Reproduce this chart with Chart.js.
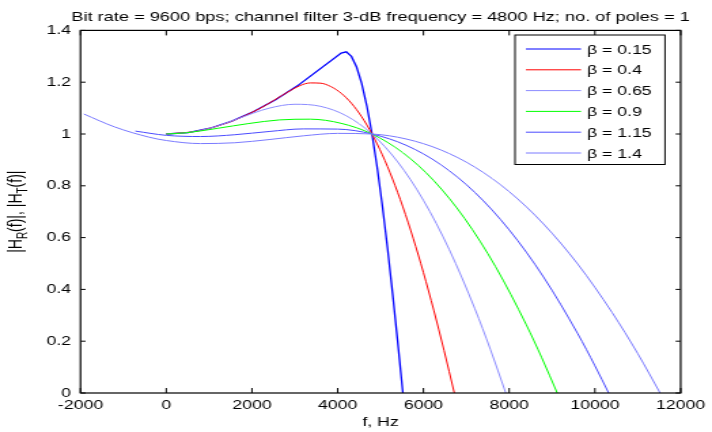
<!DOCTYPE html>
<html lang="en">
<head>
<meta charset="UTF-8" />
<title>Equalized raised-cosine filters</title>
<script src="https://cdn.jsdelivr.net/npm/chart.js"></script>
<style>
  html, body { margin: 0; padding: 0; background: #fff; overflow: hidden; }
  /* the figure is drawn narrow and stretched sideways, like the original export */
  #wrap { width: 524px; height: 432px; transform: scale(1.35878, 1); transform-origin: 0 0; }
</style>
</head>
<body>
<div id="wrap"><canvas id="chart" width="524" height="432"></canvas></div>
<script>
  const titleText = 'Bit rate = 9600 bps; channel filter 3-dB frequency = 4800 Hz; no. of poles = 1';
  const xTitle = 'f, Hz';
  const betas = ['0.15', '0.4', '0.65', '0.9', '1.15', '1.4'];
  const colors = ['#0000ff', '#ff0000', '#8c8cff', '#00ff00', '#4b4bff', '#7a7aff'];

  // frequency (Hz) and |H_R(f)| = |H_T(f)|, one pair per beta
  const f015 = [0, 510, 1020, 1530, 2040, 2550, 3060, 4080, 4200, 4320, 4440, 4560, 4680, 4800, 4920, 5040, 5160, 5280, 5400, 5520];
  const h015 = [1, 1.0056, 1.0223, 1.0496, 1.0866, 1.1324, 1.1859, 1.3124, 1.3174, 1.2995, 1.2585, 1.1945, 1.108, 1, 0.8717, 0.725, 0.5619, 0.3848, 0.1965, 0];

  const f04 = [0, 720, 1440, 2160, 2880, 3120, 3360, 3600, 3840, 4080, 4320, 4560, 4800, 5040, 5280, 5520, 5760, 6000, 6240, 6480, 6720];
  const h04 = [1, 1.0112, 1.044, 1.0966, 1.1662, 1.1869, 1.1972, 1.1962, 1.1831, 1.1575, 1.1187, 1.0662, 1, 0.9199, 0.8259, 0.7184, 0.5978, 0.4647, 0.32, 0.1647, 0];

  const f065 = [0, 560, 1120, 1680, 2400, 3000, 3600, 4200, 4800, 5400, 6000, 6600, 7200, 7560, 7920];
  const h065 = [1, 1.0068, 1.0269, 1.0595, 1.0997, 1.1148, 1.1068, 1.0703, 1, 0.8922, 0.7439, 0.5546, 0.325, 0.1688, 0];

  const f09 = [0, 480, 1200, 1920, 2640, 3360, 4080, 4800, 5520, 6240, 6960, 7680, 8400, 8760, 9120];
  const h09 = [1, 1.005, 1.022, 1.0403, 1.0544, 1.0572, 1.0412, 1, 0.9277, 0.8201, 0.6741, 0.4883, 0.2631, 0.1361, 0];

  const f115 = [-720, 0, 800, 1600, 2400, 3200, 4000, 4800, 5600, 6400, 7200, 8000, 8800, 9600, 10000, 10320];
  const h115 = [1.0112, 0.9948, 0.9902, 0.9972, 1.0097, 1.0197, 1.0189, 1, 0.9562, 0.8821, 0.7743, 0.6299, 0.4481, 0.2287, 0.1052, 0];

  const f14 = [-1920, -1200, -400, 0, 800, 1600, 2400, 3200, 4000, 4800, 5600, 6400, 7200, 8000, 8800, 9600, 10400, 11000, 11520];
  const h14 = [1.077, 1.0271, 0.9877, 0.9749, 0.963, 0.9662, 0.9785, 0.993, 1.0024, 1, 0.9806, 0.9389, 0.8721, 0.7774, 0.6528, 0.4976, 0.3111, 0.1519, 0];

  const xTicks = { min: -2000, max: 12000, step: 2000 };
  const yTicks = { min: 0, max: 1.4, step: 0.2 };

  const freqs = [f015, f04, f065, f09, f115, f14];
  const mags = [h015, h04, h065, h09, h115, h14];

  const FONT = 'Arial, "Liberation Sans", sans-serif';
  Chart.defaults.font.family = FONT;
  Chart.defaults.font.size = 13;
  Chart.defaults.color = '#000';

  // box, inward ticks, titles and legend in the old matlab look
  const matlabLook = {
    id: 'matlabLook',
    afterDraw(chart) {
      const { ctx, chartArea: a, scales: { x, y } } = chart;
      ctx.save();
      ctx.strokeStyle = '#000';
      ctx.lineWidth = 1;
      ctx.beginPath();
      x.ticks.forEach(t => {
        const px = x.getPixelForValue(t.value);
        ctx.moveTo(px, a.bottom); ctx.lineTo(px, a.bottom - 5);
        ctx.moveTo(px, a.top); ctx.lineTo(px, a.top + 5);
      });
      y.ticks.forEach(t => {
        const py = y.getPixelForValue(t.value);
        ctx.moveTo(a.left, py); ctx.lineTo(a.left + 3.7, py);
        ctx.moveTo(a.right, py); ctx.lineTo(a.right - 3.7, py);
      });
      ctx.stroke();
      ctx.lineWidth = 1.2;
      ctx.strokeRect(a.left, a.top, a.right - a.left, a.bottom - a.top);

      ctx.fillStyle = '#000';
      ctx.textAlign = 'center';
      ctx.textBaseline = 'alphabetic';
      const cx = (a.left + a.right) / 2;
      ctx.font = '13.4px ' + FONT;
      ctx.fillText(titleText, cx, 20.5);
      ctx.font = '13px ' + FONT;
      ctx.fillText(xTitle, cx, 426);

      // y label with subscripts
      const parts = [['|H', 0], ['R', 1], ['(f)|, |H', 0], ['T', 1], ['(f)|', 0]];
      ctx.save();
      ctx.translate(15.5, (a.top + a.bottom) / 2);
      ctx.rotate(-Math.PI / 2);
      ctx.textAlign = 'left';
      let total = 0;
      parts.forEach(p => { ctx.font = (p[1] ? '10px ' : '14px ') + FONT; total += ctx.measureText(p[0]).width; });
      let pos = -total / 2;
      parts.forEach(p => {
        ctx.font = (p[1] ? '10px ' : '14px ') + FONT;
        ctx.fillText(p[0], pos, p[1] ? 4.5 : 0);
        pos += ctx.measureText(p[0]).width;
      });
      ctx.restore();

      // legend box
      const lx0 = 379, lx1 = 489.4, ly0 = 35, ly1 = 164.5;
      ctx.fillStyle = '#fff';
      ctx.fillRect(lx0, ly0, lx1 - lx0, ly1 - ly0);
      ctx.lineWidth = 1;
      ctx.strokeRect(lx0, ly0, lx1 - lx0, ly1 - ly0);
      ctx.font = '13px ' + FONT;
      ctx.textAlign = 'left';
      ctx.textBaseline = 'middle';
      chart.data.datasets.forEach((ds, i) => {
        const ry = 49 + i * 20.8;
        ctx.strokeStyle = ds.borderColor;
        ctx.lineWidth = 1;
        ctx.beginPath();
        ctx.moveTo(387, ry); ctx.lineTo(427.6, ry);
        ctx.stroke();
        ctx.fillStyle = '#000';
        ctx.fillText(ds.label, 432, ry + 1);
      });
      ctx.restore();
    }
  };

  const datasets = betas.map((b, i) => ({
    label: 'β = ' + b,
    data: freqs[i].map((f, k) => ({ x: f, y: mags[i][k] })),
    borderColor: colors[i],
    borderWidth: i === 0 ? 1.3 : 1,
    pointRadius: 0,
    tension: 0,
    cubicInterpolationMode: i === 0 ? 'default' : 'monotone',
    order: 6 - i
  }));

  new Chart(document.getElementById('chart'), {
    type: 'line',
    data: { datasets },
    options: {
      responsive: false,
      animation: false,
      devicePixelRatio: 1,
      layout: { padding: { top: 30.4, right: 18.4, left: 0, bottom: 0 } },
      plugins: { legend: { display: false }, tooltip: { enabled: false } },
      scales: {
        x: {
          type: 'linear',
          min: xTicks.min, max: xTicks.max,
          grid: { display: false, drawTicks: false },
          border: { display: false },
          ticks: { stepSize: xTicks.step, padding: 5, maxRotation: 0, callback: v => String(v) },
          afterFit: s => { s.height = 39; }
        },
        y: {
          min: yTicks.min, max: yTicks.max,
          grid: { display: false, drawTicks: false },
          border: { display: false },
          ticks: { stepSize: yTicks.step, padding: 7, callback: v => String(Math.round(v * 10) / 10) },
          afterFit: s => { s.width = 59.24; }
        }
      }
    },
    plugins: [matlabLook]
  });
</script>
</body>
</html>
